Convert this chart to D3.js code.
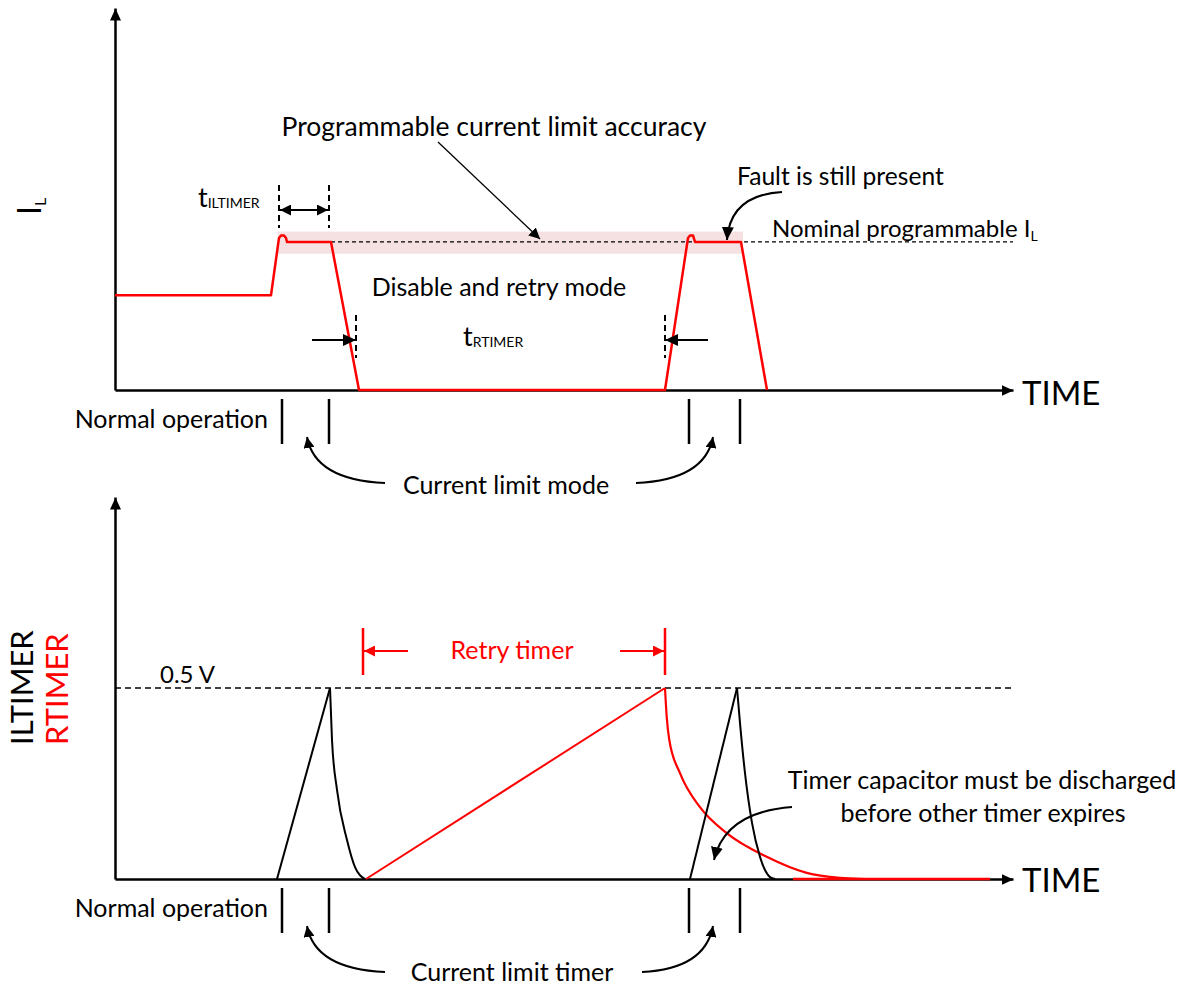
<!DOCTYPE html>
<html>
<head>
<meta charset="utf-8">
<script src="https://cdn.jsdelivr.net/npm/d3@7"></script>
<style>
  body { margin: 0; background: #fff; }
  text { font-family: Lato, "DejaVu Sans", sans-serif; fill: #000; }
</style>
</head>
<body>
<div id="chart"></div>
<script>
// ---- data (time in arbitrary units) ----

// top panel: load current I_L, in % of the programmed limit
var limitTrace = [[0, 64], [156, 64], [164, 102.7], [166, 104.4], [169, 104.4], [171, 102.7], [172, 100],
  [216, 100], [244, 0], [550, 0], [573, 102.7], [575, 104.4], [578, 104.4], [580, 100], [626, 100], [652, 0]];
var bandTimes = [163, 628];      // programmable accuracy band
var bandLevels = [92, 107];
var nominalLevel = 100;
var nominalFrom = 216;
var iltimerMarks = [164, 214];
var rtimerMarks = [241, 550];
var modeTicks = [167, 214, 574, 625];

// bottom panel: timer capacitor voltages, V
var timerThreshold = 0.5;
var iltimerRamps = [[[162, 0], [215, 0.5]], [[575, 0], [622, 0.5]]];
var iltimerDecays = [
  [[215, 0.5], [217, 0.364], [222, 0.233], [232, 0.102], [240, 0.031], [250, 0]],
  [[622, 0.5], [625, 0.408], [630, 0.277], [637, 0.147], [645, 0.058], [655, 0.005], [660, 0]]
];
var rtimerRamp = [[251, 0], [550, 0.5]];
var rtimerDecay = [[550, 0.5], [551.7, 0.425], [554.3, 0.364], [565, 0.277], [585, 0.188], [611.7, 0.12],
  [651.7, 0.058], [691.7, 0.016], [725, 0.003], [750, 0], [875, 0]];
var retryMarks = [248, 550];

var RED = "#ff0000";

var svg = d3.select("#chart").append("svg")
  .attr("width", 1180)
  .attr("height", 986);

// scales
var x = d3.scaleLinear().domain([0, 898]).range([115, 1013]);
var yTop = d3.scaleLinear().domain([0, 258]).range([390, 8]);
var yBot = d3.scaleLinear().domain([0, 1]).range([879, 497]);

// arrow markers
var defs = svg.append("defs");
function marker (id, w, h, color) {
  defs.append("marker")
    .attr("id", id)
    .attr("markerUnits", "userSpaceOnUse")
    .attr("markerWidth", w).attr("markerHeight", h)
    .attr("refX", w).attr("refY", h / 2)
    .attr("orient", "auto-start-reverse")
    .append("path")
      .attr("d", "M0,0L" + w + "," + (h / 2) + "L0," + h + "Z")
      .attr("fill", color);
}
marker("axisArrow", 12, 11, "#000");
marker("arrow", 13, 12, "#000");
marker("arrowSmall", 11, 11, "#000");
marker("arrowRed", 11, 11, RED);

// axes, no ticks, arrow at the end
function drawAxis (g) {
  g.select(".domain")
    .attr("stroke", "#000")
    .attr("stroke-width", 2.5)
    .attr("marker-end", "url(#axisArrow)");
}
svg.append("g").attr("transform", "translate(0,390)")
  .call(d3.axisBottom(x).tickValues([]).tickSizeOuter(0)).call(drawAxis);
svg.append("g").attr("transform", "translate(115,0)")
  .call(d3.axisLeft(yTop).tickValues([]).tickSizeOuter(0)).call(drawAxis);
svg.append("g").attr("transform", "translate(0,879)")
  .call(d3.axisBottom(x).tickValues([]).tickSizeOuter(0)).call(drawAxis);
svg.append("g").attr("transform", "translate(115,0)")
  .call(d3.axisLeft(yBot).tickValues([]).tickSizeOuter(0)).call(drawAxis);

// helpers
function label (px, py, str, size, anchor, color) {
  return svg.append("text")
    .attr("x", px).attr("y", py)
    .attr("font-size", size)
    .attr("text-anchor", anchor || "start")
    .style("fill", color || "#000")
    .text(str);
}
function subLabel (px, py, main, sub, size, subSize, dy) {
  var t = svg.append("text").attr("x", px).attr("y", py).attr("font-size", size);
  t.append("tspan").text(main);
  t.append("tspan").attr("font-size", subSize).attr("dy", dy).text(sub);
  return t;
}
function curveArrow (x0, y0, cx, cy, x1, y1, mk) {
  var p = d3.path();
  p.moveTo(x0, y0);
  p.quadraticCurveTo(cx, cy, x1, y1);
  svg.append("path").attr("d", p.toString())
    .attr("fill", "none").attr("stroke", "#000").attr("stroke-width", 2)
    .attr("marker-end", "url(#" + (mk || "arrowSmall") + ")");
}
function vDash (px, y0, y1) {
  svg.append("line").attr("x1", px).attr("x2", px).attr("y1", y0).attr("y2", y1)
    .attr("stroke", "#000").attr("stroke-width", 2).attr("stroke-dasharray", "6,4");
}

// ================= top panel =================
svg.append("rect")
  .attr("x", x(bandTimes[0])).attr("width", x(bandTimes[1]) - x(bandTimes[0]))
  .attr("y", yTop(bandLevels[1])).attr("height", yTop(bandLevels[0]) - yTop(bandLevels[1]))
  .attr("fill", "#f5e1e1");

svg.append("line")
  .attr("x1", x(nominalFrom)).attr("x2", x(898))
  .attr("y1", yTop(nominalLevel)).attr("y2", yTop(nominalLevel))
  .attr("stroke", "#000").attr("stroke-width", 1.3).attr("stroke-dasharray", "4,3");

var lineTop = d3.line().x(function (d) { return x(d[0]); }).y(function (d) { return yTop(d[1]); });
svg.append("path").datum(limitTrace)
  .attr("d", lineTop)
  .attr("fill", "none").attr("stroke", RED).attr("stroke-width", 2.5).attr("stroke-linejoin", "round");

// t_ILTIMER
iltimerMarks.forEach(function (t) { vDash(x(t), 185, 228); });
svg.append("line")
  .attr("x1", x(iltimerMarks[0]) + 1).attr("x2", x(iltimerMarks[1]) - 1).attr("y1", 210).attr("y2", 210)
  .attr("stroke", "#000").attr("stroke-width", 2)
  .attr("marker-start", "url(#arrowSmall)").attr("marker-end", "url(#arrowSmall)");
subLabel(198, 207, "t", "ILTIMER", 27, 14, 1);

// t_RTIMER
rtimerMarks.forEach(function (t) { vDash(x(t), 315, 358); });
svg.append("line").attr("x1", 312).attr("x2", x(rtimerMarks[0])).attr("y1", 340).attr("y2", 340)
  .attr("stroke", "#000").attr("stroke-width", 2).attr("marker-end", "url(#arrow)");
svg.append("line").attr("x1", 708).attr("x2", x(rtimerMarks[1])).attr("y1", 340).attr("y2", 340)
  .attr("stroke", "#000").attr("stroke-width", 2).attr("marker-end", "url(#arrow)");
subLabel(463, 346, "t", "RTIMER", 27, 14, 1);

label(494, 136, "Programmable current limit accuracy", 26.5, "middle");
svg.append("line").attr("x1", 438).attr("y1", 142).attr("x2", 540).attr("y2", 239)
  .attr("stroke", "#000").attr("stroke-width", 1.3).attr("marker-end", "url(#arrowSmall)");

label(737, 185, "Fault is still present", 24.6);
curveArrow(782, 192, 730, 195, 727, 240, "arrow");

subLabel(772, 237, "Nominal programmable I", "L", 24, 14, 4);
label(499, 296, "Disable and retry mode", 25, "middle");

// y label I_L
var il = svg.append("text").attr("transform", "translate(41,215) rotate(-90)").attr("font-size", 32);
il.append("tspan").text("I");
il.append("tspan").attr("font-size", 16).attr("dy", 5).text("L");

label(1022, 405, "TIME", 33);

// mode ticks and labels
modeTicks.forEach(function (t) {
  svg.append("line").attr("x1", x(t)).attr("x2", x(t)).attr("y1", 399).attr("y2", 444)
    .attr("stroke", "#000").attr("stroke-width", 2.5);
});
label(268, 428, "Normal operation", 25, "end");
label(506, 494, "Current limit mode", 25, "middle");
curveArrow(385, 483, 315, 480, 307, 437);
curveArrow(636, 483, 705, 480, 713, 437);

// ================= bottom panel =================
svg.append("line")
  .attr("x1", x(0)).attr("x2", x(898))
  .attr("y1", yBot(timerThreshold)).attr("y2", yBot(timerThreshold))
  .attr("stroke", "#000").attr("stroke-width", 1.5).attr("stroke-dasharray", "6,4");
label(160, 683, "0.5 V", 24);

var lineBot = d3.line().x(function (d) { return x(d[0]); }).y(function (d) { return yBot(d[1]); });
var curveBot = d3.line().curve(d3.curveMonotoneX)
  .x(function (d) { return x(d[0]); }).y(function (d) { return yBot(d[1]); });

svg.append("path").datum(rtimerRamp).attr("d", lineBot)
  .attr("fill", "none").attr("stroke", RED).attr("stroke-width", 2);
svg.append("path").datum(rtimerDecay).attr("d", curveBot)
  .attr("fill", "none").attr("stroke", RED).attr("stroke-width", 2.2);

iltimerRamps.forEach(function (r) {
  svg.append("path").datum(r).attr("d", lineBot)
    .attr("fill", "none").attr("stroke", "#000").attr("stroke-width", 2);
});
iltimerDecays.forEach(function (r) {
  svg.append("path").datum(r).attr("d", curveBot)
    .attr("fill", "none").attr("stroke", "#000").attr("stroke-width", 2);
});

// red axis segment after the retry capacitor is empty
svg.append("line").attr("x1", 793).attr("x2", x(875)).attr("y1", 879).attr("y2", 879)
  .attr("stroke", RED).attr("stroke-width", 2.5);

// retry timer bracket
retryMarks.forEach(function (t) {
  svg.append("line").attr("x1", x(t)).attr("x2", x(t)).attr("y1", 628).attr("y2", 675)
    .attr("stroke", RED).attr("stroke-width", 2.5);
});
svg.append("line").attr("x1", 408).attr("x2", x(retryMarks[0]) + 1).attr("y1", 651).attr("y2", 651)
  .attr("stroke", RED).attr("stroke-width", 2).attr("marker-end", "url(#arrowRed)");
svg.append("line").attr("x1", 620).attr("x2", x(retryMarks[1]) - 1).attr("y1", 651).attr("y2", 651)
  .attr("stroke", RED).attr("stroke-width", 2).attr("marker-end", "url(#arrowRed)");
label(512, 659, "Retry timer", 25, "middle", RED);

// y labels
svg.append("text").attr("transform", "translate(33,745) rotate(-90)")
  .attr("font-size", 31).text("ILTIMER");
svg.append("text").attr("transform", "translate(68,745) rotate(-90)")
  .attr("font-size", 31).style("fill", RED).text("RTIMER");

label(1022, 892, "TIME", 33);

label(982, 789, "Timer capacitor must be discharged", 25, "middle");
label(983, 822, "before other timer expires", 25, "middle");
curveArrow(792, 807, 725, 812, 714, 860, "arrow");

modeTicks.forEach(function (t) {
  svg.append("line").attr("x1", x(t)).attr("x2", x(t)).attr("y1", 888).attr("y2", 933)
    .attr("stroke", "#000").attr("stroke-width", 2.5);
});
label(268, 917, "Normal operation", 25, "end");
label(512, 981, "Current limit timer", 25, "middle");
curveArrow(385, 972, 315, 969, 307, 926);
curveArrow(642, 972, 705, 969, 713, 926);
</script>
</body>
</html>
